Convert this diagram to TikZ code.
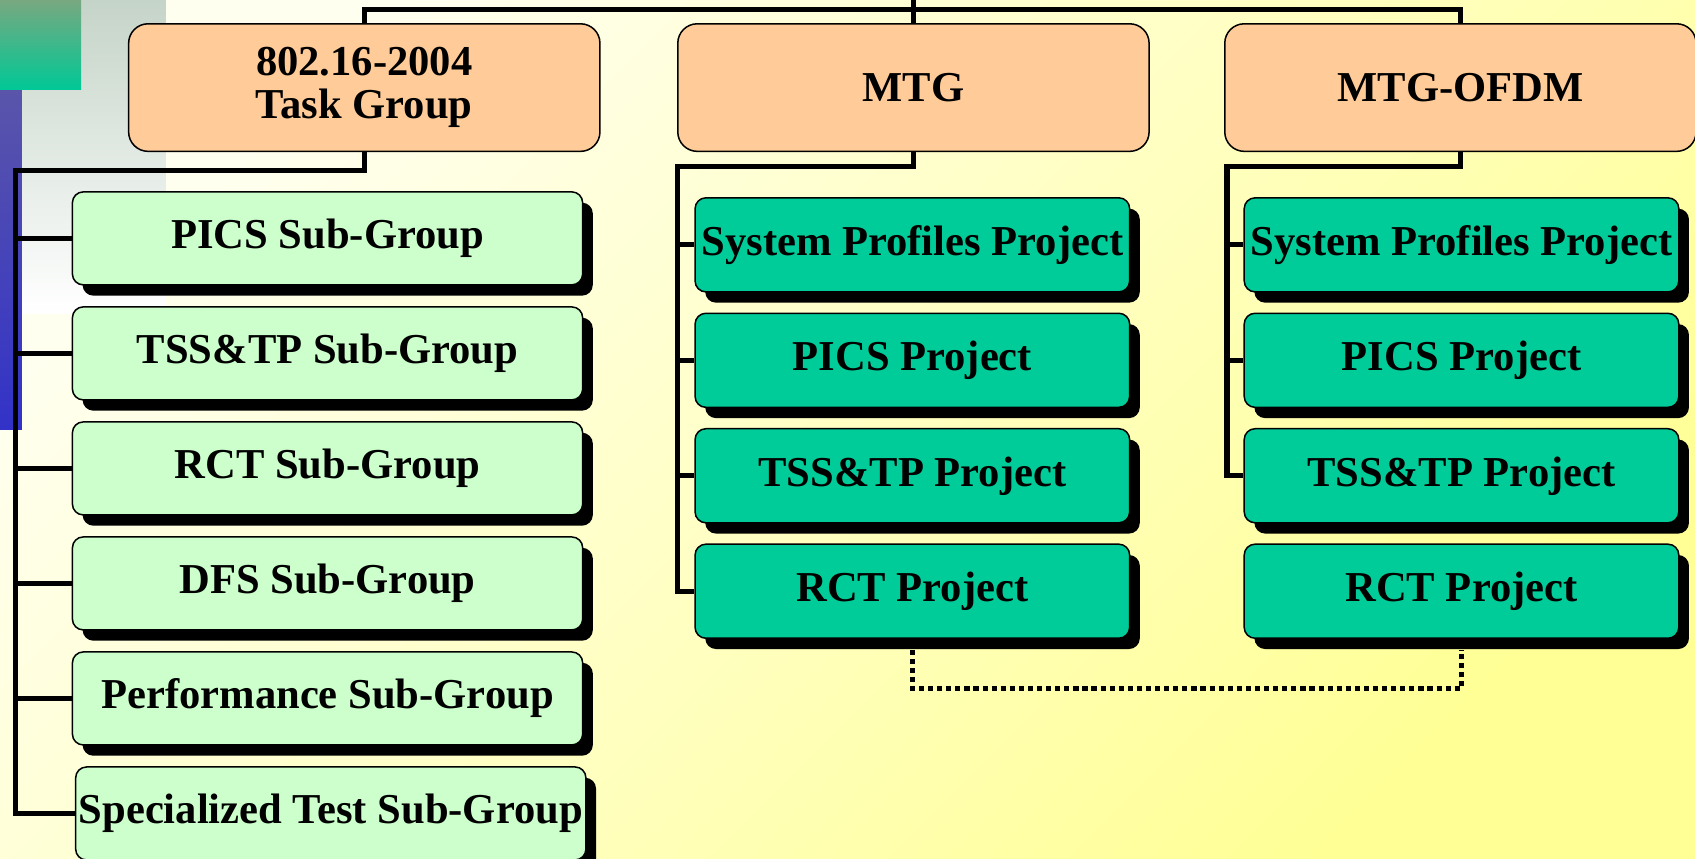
\documentclass[tikz,border=0pt]{standalone}
\usepackage{fontspec}
\setmainfont{Liberation Serif}
\usetikzlibrary{positioning}
\usetikzlibrary{shadows}
\definecolor{bgtop}{HTML}{FFFFF0}
\definecolor{bgbot}{HTML}{FFFF96}
\definecolor{greytop}{HTML}{C5D4C8}
\definecolor{greentop}{HTML}{78A880}
\definecolor{greenbot}{HTML}{00C896}
\definecolor{bluetop}{HTML}{5A55AA}
\definecolor{bluebot}{HTML}{3232C8}
\definecolor{groupfill}{HTML}{FFCC99}
\definecolor{subfill}{HTML}{CCFFCC}
\definecolor{projfill}{HTML}{00CC99}
\tikzset{auto, node distance=9.5pt, font=\fontsize{19.7}{20}\selectfont\bfseries}
\tikzstyle{groupbox} = [draw, fill=groupfill, rectangle, rounded corners=9pt, line width=0.7pt, minimum width=218pt, minimum height=59pt, inner sep=1pt, text centered, align=center]
\tikzstyle{subbox} = [draw, fill=subfill, rectangle, rounded corners=5pt, line width=0.7pt, minimum width=236pt, minimum height=43pt, inner sep=1pt, drop shadow={shadow xshift=4.7pt, shadow yshift=-5pt, fill=black, opacity=1}]
\tikzstyle{projbox} = [subbox, fill=projfill, minimum width=201pt, minimum height=43.5pt]
\tikzstyle{conn} = [line width=2.4pt]
\tikzstyle{link} = [line width=2.4pt, dash pattern=on 2.4pt off 1.8pt]

\begin{document}
\begin{tikzpicture}[x=0.5pt, y=-0.5pt]
        % slide background
        \shade [top color=bgtop, bottom color=bgbot, shading angle=45] (0,0) rectangle (1568,794.6);
        \shade [top color=greytop, bottom color=white] (0,0) rectangle (153.5,290);
        \shade [top color=bluetop, bottom color=bluebot] (0,83) rectangle (20.3,397);
        \shade [top color=greentop, bottom color=greenbot] (0,0) rectangle (75,83);
        \useasboundingbox (0,0) rectangle (1568,794.6);

        \node [groupbox] (tg) at (337,81) {802.16-2004\\Task Group};
        \node [groupbox] (mtg) at (845,81) {MTG};
        \node [groupbox] (ofdm) at (1351,81) {MTG-OFDM};

        \node [subbox] (pics_sg) at (303,220.5) {PICS Sub-Group};
        \node [subbox, below=of pics_sg] (tss_sg) {TSS\&TP Sub-Group};
        \node [subbox, below=of tss_sg] (rct_sg) {RCT Sub-Group};
        \node [subbox, below=of rct_sg] (dfs_sg) {DFS Sub-Group};
        \node [subbox, below=of dfs_sg] (perf_sg) {Performance Sub-Group};
        \node [subbox, below=of perf_sg, xshift=1.5pt] (spec_sg) {Specialized Test Sub-Group};

        \node [projbox] (sys_m) at (844,226.5) {System Profiles Project};
        \node [projbox, below=9.2pt of sys_m] (pics_m) {PICS Project};
        \node [projbox, below=9.2pt of pics_m] (tss_m) {TSS\&TP Project};
        \node [projbox, below=9.2pt of tss_m] (rct_m) {RCT Project};

        \node [projbox] (sys_o) at (1352,226.5) {System Profiles Project};
        \node [projbox, below=9.2pt of sys_o] (pics_o) {PICS Project};
        \node [projbox, below=9.2pt of pics_o] (tss_o) {TSS\&TP Project};
        \node [projbox, below=9.2pt of tss_o] (rct_o) {RCT Project};

        \coordinate (root) at (845,0);
        \coordinate (bus) at (845,8.6);
        \coordinate (tg_bus) at (14,158);
        \coordinate (mtg_bus) at (627,154);
        \coordinate (ofdm_bus) at (1135,154);
        \coordinate (rct_bus) at (844,637);

        \draw [conn] (root) -- (mtg);
        \draw [conn] (tg.north) |- (bus) -| (ofdm.north);

        \draw [conn] (tg.south) |- (tg_bus) |- (spec_sg.west);
        \foreach \n in {pics_sg,tss_sg,rct_sg,dfs_sg,perf_sg}
            \draw [conn] (tg_bus |- \n.west) -- (\n.west);

        \draw [conn] (mtg.south) |- (mtg_bus) |- (rct_m.west);
        \foreach \n in {sys_m,pics_m,tss_m}
            \draw [conn] (mtg_bus |- \n.west) -- (\n.west);

        \draw [conn] (ofdm.south) |- (ofdm_bus) |- (tss_o.west);
        \foreach \n in {sys_o,pics_o}
            \draw [conn] (ofdm_bus |- \n.west) -- (\n.west);

        \draw [link] ([yshift=-5pt]rct_m.south) |- (rct_bus) -| ([yshift=-5pt]rct_o.south);
\end{tikzpicture}
\end{document}
